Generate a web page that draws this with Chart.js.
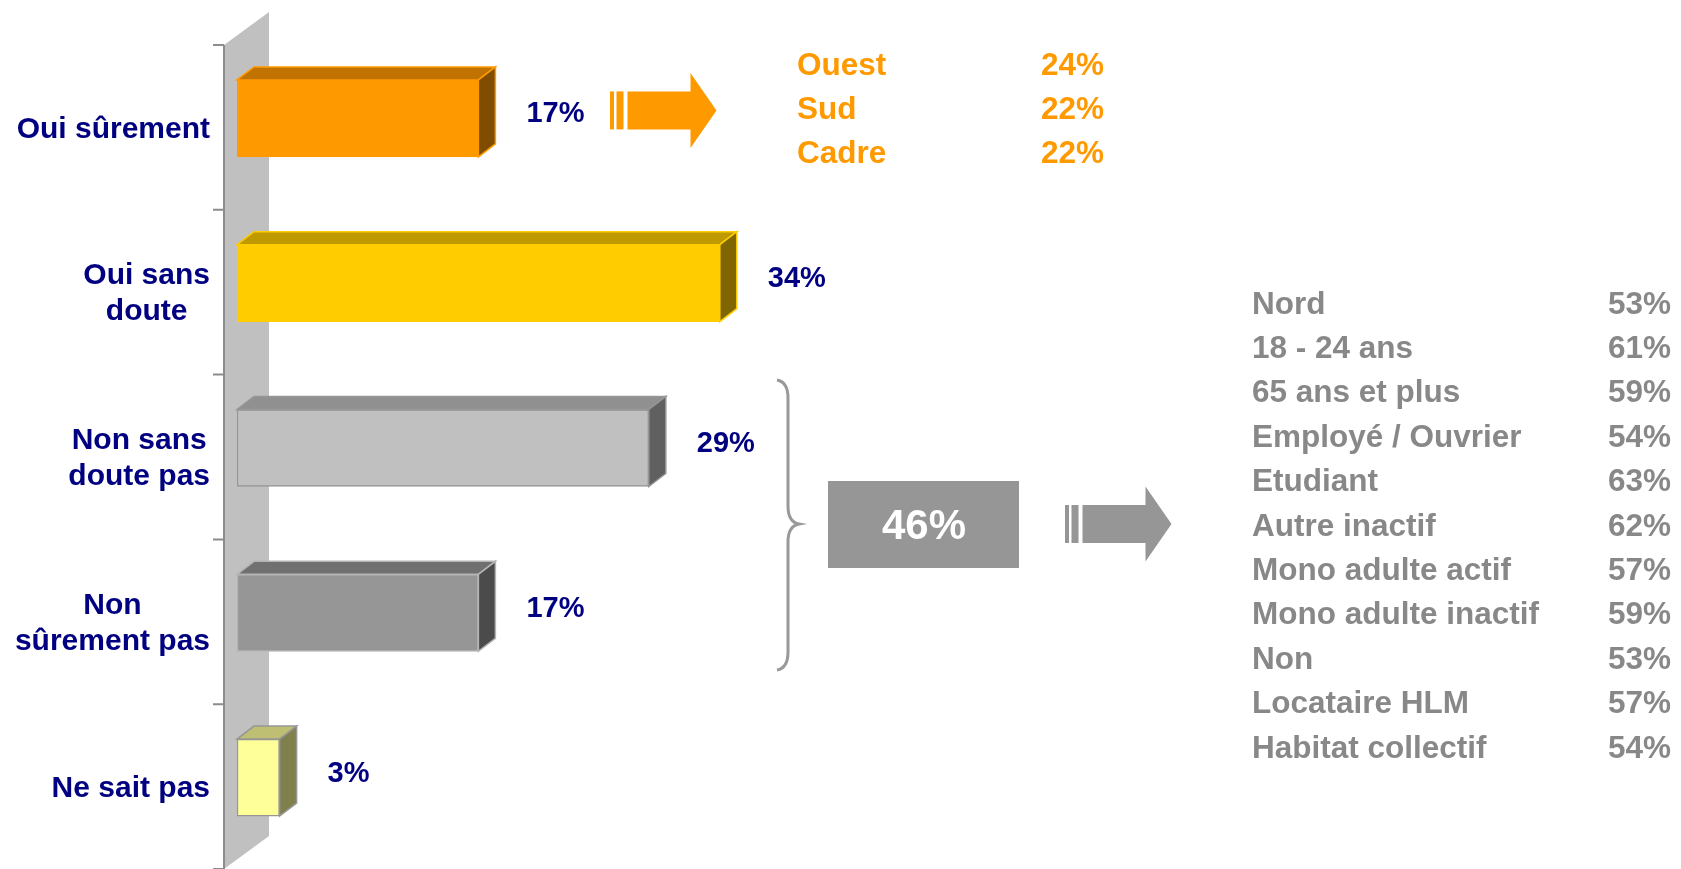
<!DOCTYPE html>
<html lang="fr">
<head>
<meta charset="utf-8">
<title>Oui / Non</title>
<script src="https://cdn.jsdelivr.net/npm/chart.js@4/dist/chart.umd.min.js"></script>
<style>
  html, body { margin: 0; padding: 0; background: #ffffff; }
  #wrap { width: 1681px; height: 869px; }
</style>
</head>
<body>
<div id="wrap"><canvas id="chart" width="1681" height="869"></canvas></div>
<script>
// ================= DATA =================
const categories = ["Oui sûrement", ["Oui sans", "doute"], ["Non sans", "doute pas"], ["Non", "sûrement pas"], "Ne sait pas"];
const values = [17, 34, 29, 17, 3];

const ouiLabels = ["Ouest", "Sud", "Cadre"];
const ouiValues = [24, 22, 22];

const nonTotal = 46;
const nonLabels = ["Nord", "18 - 24 ans", "65 ans et plus", "Employé / Ouvrier", "Etudiant", "Autre inactif",
  "Mono adulte actif", "Mono adulte inactif", "Non", "Locataire HLM", "Habitat collectif"];
const nonValues = [53, 61, 59, 54, 63, 62, 57, 59, 53, 57, 54];

// ================= STYLES =================
const frontColors = ["#FF9900", "#FFCC00", "#C0C0C0", "#969696", "#FFFF99"];
const topColors   = ["#C07300", "#BF9900", "#909090", "#707070", "#BFBF73"];
const sideColors  = ["#804C00", "#806600", "#606060", "#4B4B4B", "#80804D"];
const edgeColors  = ["#FF9900", "#FFCC00", "#969696", "#B4B4B4", "#969696"];

const FONT = "'Liberation Sans', Arial, sans-serif";
const NAVY = "#000080";
const ORANGE = "#FF9900";
const GREY_TXT = "#888888";
const GREY_BOX = "#969696";

const DEPTH_X = 17, DEPTH_Y = -13;   // bar 3D offset

// ================= HELPERS =================
function poly(ctx, pts, fill, stroke, lw) {
  ctx.beginPath();
  ctx.moveTo(pts[0][0], pts[0][1]);
  for (let i = 1; i < pts.length; i++) ctx.lineTo(pts[i][0], pts[i][1]);
  ctx.closePath();
  if (fill) { ctx.fillStyle = fill; ctx.fill(); }
  if (stroke) { ctx.strokeStyle = stroke; ctx.lineWidth = lw || 1; ctx.stroke(); }
}

function arrow(ctx, x, cy, color) {
  // two thin stripes then the arrow itself
  ctx.fillStyle = color;
  ctx.fillRect(x, cy - 19, 4, 38);
  ctx.fillRect(x + 6.5, cy - 19, 7, 38);
  const bx = x + 17.5;
  poly(ctx, [[bx, cy - 19], [bx + 63, cy - 19], [bx + 63, cy - 37.5], [bx + 89, cy],
             [bx + 63, cy + 37.5], [bx + 63, cy + 19], [bx, cy + 19]], color);
}

// ================= WALL + AXIS =================
const wallPlugin = {
  id: "wall",
  beforeDatasetsDraw(chart) {
    const ctx = chart.ctx;
    const xs = chart.scales.x, ys = chart.scales.y;
    const x0 = xs.getPixelForValue(0);
    const band = ys.getPixelForValue(1) - ys.getPixelForValue(0);
    const top = ys.getPixelForValue(0) - band / 2 + 9;
    const bottom = ys.getPixelForValue(categories.length - 1) + band / 2 + 9;
    const xl = x0 - 13, xr = x0 + 32;

    ctx.save();
    poly(ctx, [[xl, top], [xr, top - 33], [xr, bottom - 33], [xl, bottom]], "#C0C0C0");
    ctx.strokeStyle = "#8C8C8C";
    ctx.lineWidth = 2;
    ctx.beginPath();
    ctx.moveTo(xl, top);
    ctx.lineTo(xl, bottom);
    for (let i = 0; i <= categories.length; i++) {
      const ty = top + i * band;
      ctx.moveTo(xl - 11, ty);
      ctx.lineTo(xl, ty);
    }
    ctx.stroke();
    ctx.restore();
  }
};

// ================= 3D FACES, LABELS =================
const facePlugin = {
  id: "faces",
  afterDatasetsDraw(chart) {
    const ctx = chart.ctx;
    const meta = chart.getDatasetMeta(0);
    const xs = chart.scales.x;
    const x0 = xs.getPixelForValue(0);
    ctx.save();
    meta.data.forEach((bar, i) => {
      const h = bar.height;
      const l = bar.base, r = bar.x, t = bar.y - h / 2, b = bar.y + h / 2;
      poly(ctx, [[l, t], [l + DEPTH_X, t + DEPTH_Y], [r + DEPTH_X, t + DEPTH_Y], [r, t]], topColors[i], edgeColors[i], 1.5);
      poly(ctx, [[r, t], [r + DEPTH_X, t + DEPTH_Y], [r + DEPTH_X, b + DEPTH_Y], [r, b]], sideColors[i], edgeColors[i], 1.5);

      // value label
      ctx.fillStyle = NAVY;
      ctx.font = "bold 29px " + FONT;
      ctx.textAlign = "left";
      ctx.textBaseline = "middle";
      ctx.fillText(values[i] + "%", r + 48, bar.y - 4);

      // category label: block right aligned, lines centred
      const lines = Array.isArray(categories[i]) ? categories[i] : [categories[i]];
      ctx.font = "bold 30px " + FONT;
      const w = Math.max(...lines.map(s => ctx.measureText(s).width));
      const cx = x0 - 27 - w / 2;
      ctx.textAlign = "center";
      lines.forEach((s, k) => {
        ctx.fillText(s, cx, bar.y + 11 + (k - (lines.length - 1) / 2) * 36);
      });
    });
    ctx.restore();
  }
};

// ================= RIGHT-HAND NOTES =================
const notesPlugin = {
  id: "notes",
  afterDraw(chart) {
    const ctx = chart.ctx;
    const meta = chart.getDatasetMeta(0);
    ctx.save();

    // Oui sûrement -> orange detail
    arrow(ctx, 610, meta.data[0].y - 8, ORANGE);
    ctx.font = "bold 31.5px " + FONT;
    ctx.textBaseline = "middle";
    ctx.fillStyle = ORANGE;
    ctx.textAlign = "left";
    ouiLabels.forEach((s, i) => {
      ctx.fillText(s, 797, 66 + i * 44);
      ctx.fillText(ouiValues[i] + "%", 1041, 66 + i * 44);
    });

    // brace over the two "Non" bars
    const yTop = 380, yMid = 524, yBot = 670;
    ctx.strokeStyle = "#999999";
    ctx.lineWidth = 3;
    ctx.beginPath();
    ctx.moveTo(777, yTop);
    ctx.quadraticCurveTo(788, yTop + 2, 788, yTop + 18);
    ctx.lineTo(788, yMid - 18);
    ctx.quadraticCurveTo(788, yMid - 2, 799, yMid);
    ctx.quadraticCurveTo(788, yMid + 2, 788, yMid + 18);
    ctx.lineTo(788, yBot - 18);
    ctx.quadraticCurveTo(788, yBot - 2, 777, yBot);
    ctx.stroke();

    // total box
    ctx.fillStyle = GREY_BOX;
    ctx.fillRect(828, 481, 191, 87);
    ctx.fillStyle = "#ffffff";
    ctx.font = "bold 42px " + FONT;
    ctx.textAlign = "center";
    ctx.fillText(nonTotal + "%", 924, 527);

    arrow(ctx, 1065, 524, GREY_BOX);

    // grey detail list
    ctx.font = "bold 31.5px " + FONT;
    ctx.fillStyle = GREY_TXT;
    ctx.textAlign = "left";
    nonLabels.forEach((s, i) => {
      const y = 305 + i * 44.4;
      ctx.fillText(s, 1252, y);
      ctx.fillText(nonValues[i] + "%", 1608, y);
    });
    ctx.restore();
  }
};

// ================= CHART =================
new Chart(document.getElementById("chart"), {
  type: "bar",
  data: {
    labels: categories,
    datasets: [{
      data: values,
      backgroundColor: frontColors,
      borderColor: edgeColors,
      borderWidth: 1.5,
      borderSkipped: false,
      barThickness: 77
    }]
  },
  options: {
    indexAxis: "y",
    responsive: false,
    animation: false,
    devicePixelRatio: 1,
    layout: { padding: { left: 237, right: 24, top: 36, bottom: 9 } },
    scales: {
      x: { display: false, min: 0, max: 100 },
      y: { display: false, grid: { display: false } }
    },
    plugins: { legend: { display: false }, tooltip: { enabled: false } }
  },
  plugins: [wallPlugin, facePlugin, notesPlugin]
});
</script>
</body>
</html>
